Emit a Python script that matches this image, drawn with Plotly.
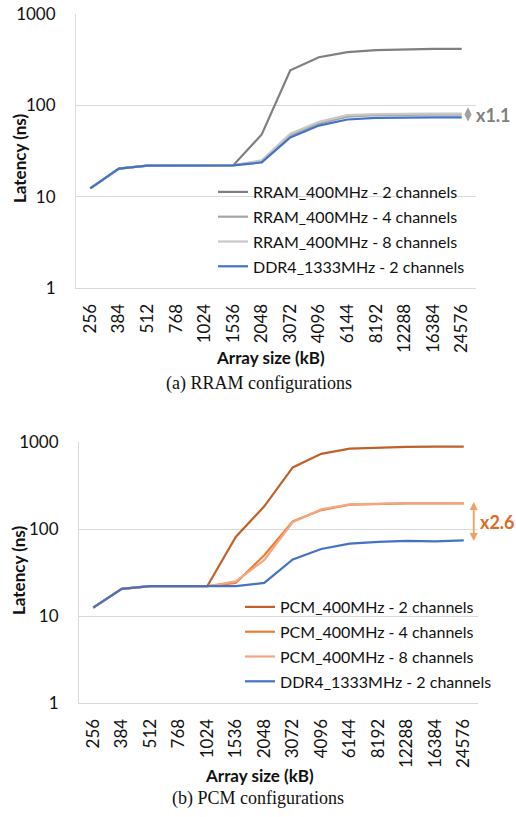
import math
import plotly.graph_objects as go

W, H = 516, 817

sizes = ["256", "384", "512", "768", "1024", "1536", "2048", "3072",
         "4096", "6144", "8192", "12288", "16384", "24576"]

# (a) RRAM configurations, latency in ns
ddr4_a = [12.3, 20.3, 21.9, 22, 22, 22, 23.7, 44.5, 60, 70, 73, 74, 74, 74]
rram_2ch = [12.3, 20.3, 21.9, 22, 22, 22, 48, 242, 336, 383, 402, 412, 415, 415]
rram_4ch = [12.3, 20.3, 21.9, 22, 22, 22, 24.5, 47, 63, 75, 78, 79, 79, 79]
rram_8ch = [12.3, 20.3, 21.9, 22, 22, 22, 25, 49, 66, 78, 80, 81, 81, 81]

# (b) PCM configurations, latency in ns
ddr4_b = [12.5, 20.5, 22, 22, 22, 22, 24, 44.7, 59, 68, 71, 73, 72, 74]
pcm_2ch = [12.5, 20.5, 22, 22, 22, 81, 182, 510, 731, 837, 866, 880, 885, 885]
pcm_4ch = [12.5, 20.5, 22, 22, 22, 24, 50, 122, 165, 190, 195, 197, 197, 197]
pcm_8ch = [12.5, 20.5, 22, 22, 22, 25, 44, 120, 168, 192, 196, 198, 198, 198]

yticks = [1, 10, 100, 1000]

GRID = "#d9d9d9"
FONT = "Lato"
TXT = "#111111"

fig = go.Figure()

top_series = [
    ("RRAM_400MHz - 2 channels", rram_2ch, "#7f7f7f"),
    ("RRAM_400MHz - 4 channels", rram_4ch, "#a5a5a5"),
    ("RRAM_400MHz - 8 channels", rram_8ch, "#c8c8c8"),
    ("DDR4_1333MHz - 2 channels", ddr4_a, "#4472c4"),
]
bot_series = [
    ("PCM_400MHz - 2 channels", pcm_2ch, "#c0602a"),
    ("PCM_400MHz - 4 channels", pcm_4ch, "#ed7d31"),
    ("PCM_400MHz - 8 channels", pcm_8ch, "#f4a582"),
    ("DDR4_1333MHz - 2 channels", ddr4_b, "#4472c4"),
]

for i, (name, vals, col) in enumerate(top_series):
    fig.add_trace(go.Scatter(x=sizes, y=vals, name=name, mode="lines",
                             line=dict(color=col, width=2.2),
                             xaxis="x", yaxis="y", legend="legend",
                             legendgroup=f"a{i}"))
for i, (name, vals, col) in enumerate(bot_series):
    fig.add_trace(go.Scatter(x=sizes, y=vals, name=name, mode="lines",
                             line=dict(color=col, width=2.2),
                             xaxis="x2", yaxis="y2", legend="legend2",
                             legendgroup=f"b{i}"))


def px_x(p):
    return p / W


def px_y(p):
    return 1 - p / H


common_x = dict(type="category", range=[-0.5, len(sizes) - 0.5], showgrid=False,
                showline=True, linecolor=GRID, linewidth=1, tickangle=-90, ticks="",
                tickfont=dict(size=17, color=TXT), ticklabelstandoff=8, zeroline=False,
                automargin=False)
common_y = dict(type="log", range=[0, 3], tickvals=yticks, ticktext=[str(v) for v in yticks],
                showgrid=True, gridcolor=GRID, gridwidth=1, showline=True, linecolor=GRID,
                linewidth=1, ticks="", tickfont=dict(size=17, color=TXT),
                ticklabelstandoff=16, zeroline=False, automargin=False)

fig.update_layout(
    width=W, height=H,
    margin=dict(l=0, r=0, t=0, b=0, autoexpand=False),
    paper_bgcolor="white", plot_bgcolor="white",
    font=dict(family=FONT, color=TXT),
    xaxis=dict(common_x, domain=[px_x(76), px_x(476)], anchor="y"),
    yaxis=dict(common_y, domain=[px_y(288), px_y(14)], anchor="x"),
    xaxis2=dict(common_x, domain=[px_x(79), px_x(478)], anchor="y2"),
    yaxis2=dict(common_y, domain=[px_y(703), px_y(442)], anchor="x2"),
    legend=dict(x=px_x(213), y=px_y(175), xanchor="left", yanchor="top",
                bgcolor="rgba(0,0,0,0)", font=dict(size=16, color=TXT),
                itemwidth=30, tracegroupgap=1, itemclick=False),
    legend2=dict(x=px_x(240), y=px_y(590), xanchor="left", yanchor="top",
                 bgcolor="rgba(0,0,0,0)", font=dict(size=16, color=TXT),
                 itemwidth=30, tracegroupgap=1, itemclick=False),
    showlegend=True,
)


def label(x, y, text, size=17, angle=0, family=None):
    f = dict(size=size, color=TXT)
    if family:
        f["family"] = family
    return dict(x=px_x(x), y=px_y(y), xref="paper", yref="paper", text=text,
                textangle=angle, showarrow=False, xanchor="center", yanchor="middle", font=f)


annotations = [
    # axis titles
    label(20, 159, "<b>Latency (ns)</b>", angle=-90),
    label(270, 358, "<b>Array size (kB)</b>"),
    label(18, 571, "<b>Latency (ns)</b>", angle=-90),
    label(259, 775, "<b>Array size (kB)</b>"),
    # panel captions
    label(259, 383, "(a) RRAM configurations", size=18, family="Liberation Serif"),
    label(258, 798, "(b) PCM configurations", size=18, family="Liberation Serif"),
    # ratio marker on the RRAM panel
    dict(x=13.22, y=math.log10(95), ax=13.22, ay=math.log10(64), xref="x", yref="y",
         axref="x", ayref="y", text="", showarrow=True, arrowhead=2, arrowside="end+start",
         arrowsize=0.8, arrowwidth=1.8, arrowcolor="#a0a0a0", standoff=0, startstandoff=0),
    dict(x=13.42, y=math.log10(78), xref="x", yref="y", text="<b>x1.1</b>",
         showarrow=False, xanchor="left", yanchor="middle", font=dict(size=18, color="#7f7f7f")),
    # ratio marker on the PCM panel
    dict(x=13.35, y=math.log10(205), ax=13.35, ay=math.log10(70), xref="x2", yref="y2",
         axref="x2", ayref="y2", text="", showarrow=True, arrowhead=2, arrowside="end+start",
         arrowsize=0.9, arrowwidth=1.8, arrowcolor="#f0a060", standoff=0, startstandoff=0),
    dict(x=13.5, y=math.log10(120), xref="x2", yref="y2", text="<b>x2.6</b>",
         showarrow=False, xanchor="left", yanchor="middle", font=dict(size=18, color="#dc6a26")),
]
fig.update_layout(annotations=annotations)

fig.write_html("out.html")
